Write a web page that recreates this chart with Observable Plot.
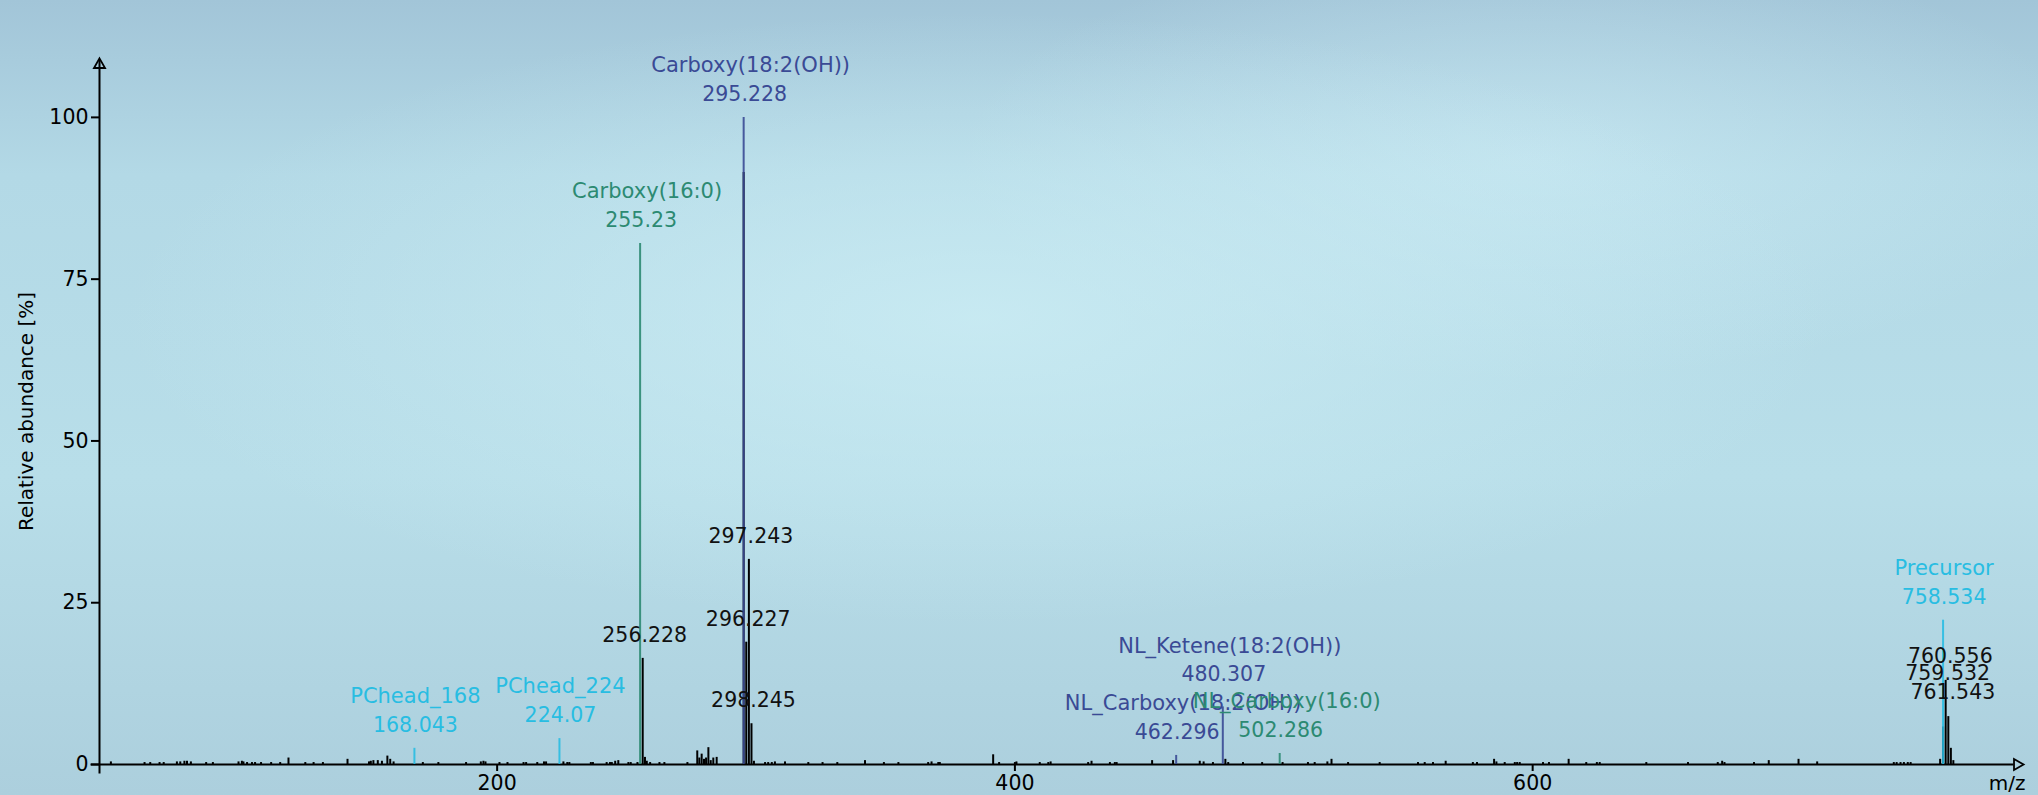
<!DOCTYPE html>
<html>
<head>
<meta charset="utf-8">
<script src="https://cdn.jsdelivr.net/npm/d3@7"></script>
<script src="https://cdn.jsdelivr.net/npm/@observablehq/plot@0.6"></script>
<style>
  html, body { margin: 0; padding: 0; overflow: hidden; }
  body {
    width: 2038px; height: 795px;
    background:
      radial-gradient(ellipse 60% 55% at 48% 40%, rgba(205,238,245,0.75), rgba(205,238,245,0) 70%),
      radial-gradient(ellipse 40% 40% at 75% 20%, rgba(210,240,248,0.5), rgba(210,240,248,0) 70%),
      linear-gradient(180deg, #a2c5d8 0%, #b3d9e6 22%, #b8dee9 60%, #accfdd 100%);
  }
</style>
</head>
<body>
<div id="chart"></div>
<script>
// ---- data ----
// all centroid peaks (m/z, relative abundance %)
const peakMz = [
  50.8, 63.8, 66.0, 69.6, 71.2, 76.3, 77.6, 79.2, 80.2, 81.7, 87.6, 90.2,
  100.1, 101.4, 102.0, 103.4, 105.3, 106.5, 108.8, 112.7, 116.2, 119.4, 125.9, 129.1,
  132.7, 142.2, 150.5, 151.2, 152.2, 153.9, 155.5, 157.6, 158.7, 160.0, 171.3, 177.3,
  188.0, 193.7, 194.7, 195.5, 200.9, 204.0, 210.2, 211.2, 215.5, 218.1, 218.9, 225.6,
  227.1, 227.9, 236.2, 237.0, 242.3, 243.6, 244.3, 245.6, 246.8, 250.7, 251.6, 254.2,
  256.228, 257.1, 257.8, 259.1, 262.7, 264.6, 273.5, 277.3, 278.1, 279.0, 279.9, 280.7,
  281.6, 282.5, 283.5, 284.8, 295.228, 296.227, 297.243, 298.245, 299.2, 303.5, 304.7, 306.1,
  307.3, 311.2, 320.2, 325.7, 331.4, 342.1, 349.4, 355.0, 366.5, 367.8, 370.4, 371.0,
  391.6, 393.9, 400.0, 400.6, 409.6, 412.9, 413.8, 428.3, 429.6, 436.7, 438.6, 439.3,
  453.0, 461.1, 471.4, 472.9, 476.5, 481.3, 482.4, 488.1, 495.5, 503.4, 513.2, 515.8,
  520.7, 522.3, 528.7, 540.9, 555.7, 558.3, 561.5, 566.4, 576.9, 578.5, 585.1, 586.0,
  589.2, 593.1, 594.0, 595.0, 604.0, 606.3, 613.9, 620.7, 624.8, 625.9, 643.9, 660.0,
  671.5, 673.2, 674.1, 685.5, 691.2, 702.7, 709.9, 739.5, 740.6, 742.1, 743.4, 744.9,
  746.0, 757.4, 758.534, 759.532, 760.556, 761.543, 762.5
];
const peakIntensity = [
  0.4, 0.3, 0.3, 0.3, 0.3, 0.4, 0.4, 0.5, 0.5, 0.4, 0.3, 0.3,
  0.4, 0.5, 0.4, 0.3, 0.3, 0.3, 0.3, 0.3, 0.3, 1.0, 0.3, 0.3,
  0.3, 0.8, 0.4, 0.5, 0.6, 0.6, 0.5, 1.3, 0.8, 0.4, 0.3, 0.3,
  0.3, 0.4, 0.5, 0.4, 0.3, 0.3, 0.3, 0.3, 0.3, 0.4, 0.4, 0.4,
  0.3, 0.3, 0.3, 0.3, 0.3, 0.3, 0.3, 0.5, 0.6, 0.3, 0.3, 0.3,
  16.4, 1.1, 0.5, 0.3, 0.3, 0.3, 0.3, 2.1, 1.0, 1.6, 0.8, 1.0,
  2.6, 0.6, 1.0, 1.1, 91.5, 18.9, 31.7, 6.3, 0.5, 0.3, 0.3, 0.3,
  0.4, 0.4, 0.3, 0.3, 0.3, 0.6, 0.3, 0.3, 0.3, 0.4, 0.3, 0.3,
  1.5, 0.3, 0.3, 0.4, 0.3, 0.3, 0.4, 0.3, 0.5, 0.3, 0.3, 0.3,
  0.6, 0.6, 0.5, 0.4, 0.3, 0.8, 0.3, 0.3, 0.3, 0.3, 0.3, 0.3,
  0.4, 0.8, 0.3, 0.3, 0.3, 0.3, 0.3, 0.5, 0.3, 0.3, 0.8, 0.4,
  0.3, 0.3, 0.3, 0.3, 0.3, 0.3, 0.8, 0.3, 0.3, 0.3, 0.3, 0.3,
  0.3, 0.5, 0.3, 0.3, 0.6, 0.8, 0.4, 0.3, 0.3, 0.3, 0.3, 0.3,
  0.3, 0.8, 5.8, 13.0, 7.4, 2.5, 0.6
];
// labelled (unannotated) peaks
const labelledMz = [256.228, 296.227, 297.243, 298.245, 759.532, 760.556, 761.543];

// annotated fragments
const annotMz = [168.043, 224.07, 255.23, 295.228, 462.296, 480.307, 502.286, 758.534];
const annotIntensity = [2.5, 4.0, 80.5, 100, 1.4, 8.9, 1.7, 22.3];
const annotName = ["PChead_168", "PChead_224", "Carboxy(16:0)", "Carboxy(18:2(OH))",
  "NL_Carboxy(18:2(OH))", "NL_Ketene(18:2(OH))", "NL_Carboxy(16:0)", "Precursor"];
const annotGroup = ["head", "head", "c16", "c18", "c18", "c18", "c16", "head"];

const xTicks = [200, 400, 600];
const yTicks = [0, 25, 50, 75, 100];
const xLabel = "m/z";
const yLabel = "Relative abundance [%]";

// ---- layout / style ----
const xDomain = [46.4, 789.6];
const yDomain = [0, 109.1];
const groupColor = {head: "#28bde2", c16: "#2c8a72", c18: "#3a4a95"};
const labelNudge = {480.307: -9, 759.532: 16.5, 760.556: -37.5, 761.543: -33}; // px, label collision avoidance
const font = "DejaVu Sans";

const peaks = peakMz.map((mz, i) => ({mz, intensity: peakIntensity[i]}));
const annots = annotMz.map((mz, i) => ({mz, intensity: annotIntensity[i], name: annotName[i], group: annotGroup[i]}));
const labelled = peaks.filter(d => labelledMz.includes(d.mz));

const marks = [];
// axis lines
marks.push(Plot.ruleY([0], {x1: xDomain[0], x2: xDomain[1], insetLeft: -8.5, insetRight: 9.5, stroke: "#000", strokeWidth: 2}));
marks.push(Plot.ruleX([xDomain[0]], {y1: 0, y2: yDomain[1], insetTop: 9.5, insetBottom: -1, stroke: "#000", strokeWidth: 2}));
// arrow heads
marks.push(Plot.dot([0], {x: () => xDomain[1], y: () => 0, symbol: "triangle", r: 4.1, rotate: 90, dx: -6.3, fill: "none", stroke: "#000", strokeWidth: 1.8}));
marks.push(Plot.dot([0], {x: () => xDomain[0], y: () => yDomain[1], symbol: "triangle", r: 4.1, dy: 6.3, fill: "none", stroke: "#000", strokeWidth: 1.8}));
// spectrum
marks.push(Plot.ruleX(peaks, {x: "mz", y1: 0, y2: "intensity", stroke: "#000", strokeWidth: 2}));
// annotated lines
marks.push(Plot.ruleX(annots, {x: "mz", y1: 0, y2: "intensity", stroke: d => groupColor[d.group], strokeWidth: 2, strokeOpacity: 0.9}));
// black labels
for (const d of labelled) {
  const n = labelNudge[d.mz] || 0;
  marks.push(Plot.text([d], {x: "mz", y: "intensity", text: d => String(d.mz), dy: -23 + n, dx: 2,
    lineAnchor: "middle", textAnchor: "middle", fill: "#111", fontSize: 20.5}));
}
// annotation labels
for (const d of annots) {
  const n = labelNudge[d.mz] || 0;
  const c = groupColor[d.group];
  const shift = d.name.includes("(") ? 7 : 1;
  marks.push(Plot.text([d], {x: "mz", y: "intensity", text: d => String(d.mz), dy: -23 + n, dx: 1,
    lineAnchor: "middle", textAnchor: "middle", fill: c, fontSize: 20.5}));
  marks.push(Plot.text([d], {x: "mz", y: "intensity", text: "name", dy: -52 + n, dx: shift,
    lineAnchor: "middle", textAnchor: "middle", fill: c, fontSize: 21}));
}
// axes
marks.push(Plot.axisX({ticks: xTicks, tickSize: 7, tickPadding: 4, fontSize: 20.5, label: null, strokeWidth: 2, stroke: "#000", fill: "#000"}));
marks.push(Plot.axisY({ticks: yTicks, tickSize: 8, tickPadding: 3, fontSize: 20.5, label: null, strokeWidth: 2, stroke: "#000", fill: "#000"}));
// axis titles
marks.push(Plot.text([xLabel], {frameAnchor: "bottom-right", dx: 2, dy: 19, lineAnchor: "middle", textAnchor: "end", fill: "#000", fontSize: 20}));
marks.push(Plot.text([yLabel], {frameAnchor: "left", rotate: -90, dx: -73, lineAnchor: "middle", textAnchor: "middle", fill: "#000", fontSize: 20}));

const chart = Plot.plot({
  width: 2038,
  height: 795,
  marginLeft: 99,
  marginRight: 15,
  marginTop: 58,
  marginBottom: 31,
  style: {background: "transparent", fontFamily: font, fontSize: "20px", overflow: "visible"},
  x: {domain: xDomain},
  y: {domain: yDomain},
  marks
});
document.getElementById("chart").append(chart);
</script>
</body>
</html>
